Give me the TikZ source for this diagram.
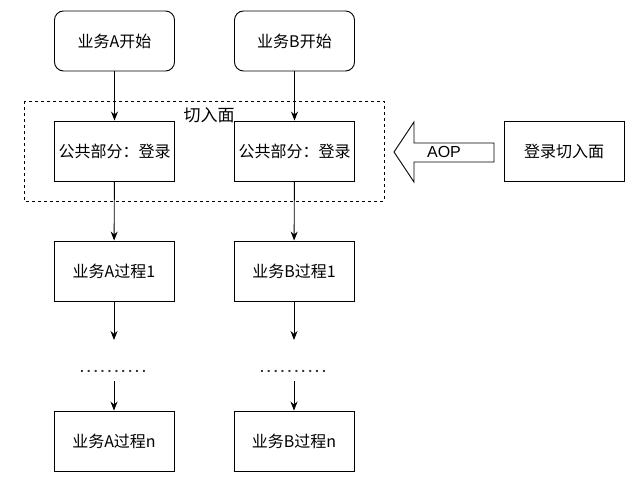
\documentclass[tikz,border=0pt]{standalone}
\usepackage{fontspec}
\setmainfont{Liberation Sans}
\newfontfamily\cjk{Noto Sans CJK SC}
\usetikzlibrary{arrows.meta}
\begin{document}
\begin{tikzpicture}[x=1pt,y=-1pt,
  box/.style={draw,line width=0.9pt,minimum width=120pt,minimum height=60pt,inner sep=0pt,font=\cjk\fontsize{16}{19}\selectfont},
  rbox/.style={box,rounded corners=9pt},
  arr/.style={line width=0.9pt,-{Stealth[length=9pt,width=7pt]}},
  lbl/.style={inner sep=0pt,font=\cjk\fontsize{17}{20}\selectfont},
  dots/.style={inner sep=0pt,text=black!80,font=\bfseries\fontsize{14}{16}\selectfont}]
\useasboundingbox (0,0) rectangle (636,481);
\def\dd{.\kern3pt}
% frame
\draw[dashed,line width=0.7pt] (24,101) rectangle (384,201);
\node[lbl] (frame) at (209,115) {切入面};
% column A
\node[rbox] (sa) at (114.5,41) {业务A开始};
\node[box,fill=white] (ca) at (114.5,151) {公共部分：登录};
\node[box] (pa) at (114,271) {业务A过程1};
\coordinate (ea) at (114,340);
\node[dots] (da) at (113,371) {\dd\dd\dd\dd\dd\dd\dd\dd\dd.};
\coordinate (fa) at (114,381);
\node[box] (na) at (114,441) {业务A过程n};
% column B
\node[rbox] (sb) at (294.5,41) {业务B开始};
\node[box,fill=white] (cb) at (294.5,151) {公共部分：登录};
\node[box] (pb) at (294,271) {业务B过程1};
\coordinate (eb) at (294,340);
\node[dots] (db) at (293,371) {\dd\dd\dd\dd\dd\dd\dd\dd\dd.};
\coordinate (fb) at (294,381);
\node[box] (nb) at (294,441) {业务B过程n};
% connectors
\draw[arr] (sa) -- (ca);
\draw[arr] (ca) -- (pa);
\draw[arr] (pa.south) -- (ea);
\draw[arr] (fa) -- (na);
\draw[arr] (sb) -- (cb);
\draw[arr] (cb) -- (pb);
\draw[arr] (pb.south) -- (eb);
\draw[arr] (fb) -- (nb);
% AOP arrow
\draw[line width=0.9pt,line join=miter] (394,152) -- (414,122) -- (414,143) -- (494,143) -- (494,162) -- (414,162) -- (414,182) -- cycle;
\node[inner sep=0pt,font=\fontsize{16}{19}\selectfont] (aop) at (444,152) {AOP};
\node[box] (login) at (564,151) {登录切入面};
\end{tikzpicture}
\end{document}
